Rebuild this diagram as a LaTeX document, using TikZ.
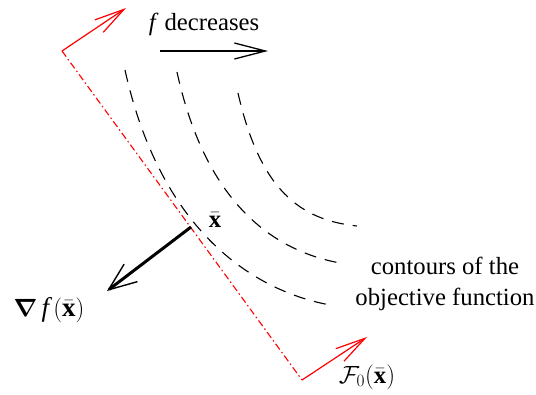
\documentclass[tikz,border=0pt]{standalone}
\usepackage{amsmath}
\usepackage{fontspec}
\setmainfont{Liberation Serif}
\usetikzlibrary{arrows.meta}
\begin{document}
\begin{tikzpicture}[x=1pt,y=-1pt,
  font=\fontsize{24.7}{31}\selectfont,
  contour/.style={line width=1.1pt, dash pattern=on 12pt off 9pt},
  redline/.style={red, line width=1.1pt, dash pattern=on 7pt off 3pt on 1.5pt off 3pt},
  redarrow/.style={red, line width=1.2pt, -{Straight Barb[length=30pt,width=15pt,line width=1.2pt]}},
  blackarrow/.style={line width=1.3pt, -{Straight Barb[length=31pt,width=16pt,line width=1.3pt]}},
  gradarrow/.style={line width=3pt, -{Straight Barb[length=28pt,width=22pt,line width=1.4pt]}},
  lbl/.style={inner sep=0pt}]
\useasboundingbox (0,0) rectangle (536,394);
% coordinates
\coordinate (r1) at (62,51);
\coordinate (r1t) at (126,8);
\coordinate (r2) at (302,380);
\coordinate (r2t) at (367,337);
\coordinate (fa) at (160,51);
\coordinate (fb) at (268,51);
\coordinate (xb) at (191,227);
\coordinate (g) at (107,291);
\coordinate (c1s) at (125,70);
\coordinate (c1e) at (330,305);
\coordinate (c2s) at (177,72);
\coordinate (c2e) at (340,263);
\coordinate (c3s) at (238,93);
\coordinate (c3e) at (357,226);
% contours
\draw[contour] (c1s) .. controls (160,228) and (250,290) .. (c1e);
\draw[contour] (c2s) .. controls (205,200) and (270,250) .. (c2e);
\draw[contour] (c3s) .. controls (260,190) and (300,220) .. (c3e);
% red tangent line and arrows
\draw[redline] (r1) -- (r2);
\draw[redarrow] (r1) -- (r1t);
\draw[redarrow] (r2) -- (r2t);
% f decreases arrow
\draw[blackarrow] (fa) -- (fb);
% gradient
\draw[gradarrow] (xb) -- (g);
% labels
\node[lbl, anchor=base] (fdec) at (204,30) {\textit{f} decreases};
\node[lbl] (xbl) at (215,220) {$\bar{\mathbf{x}}$};
\node[lbl, font=\fontsize{27}{31}\selectfont] (grad) at (49,310) {$\boldsymbol{\nabla}\,\textit{f}\,(\bar{\mathbf{x}})$};
\node[lbl] (F0) at (367,377) {$\mathcal{F}_0(\bar{\mathbf{x}})$};
\node[lbl, align=center] (cont) at (445,284) {contours of the\\objective function};
\end{tikzpicture}
\end{document}
